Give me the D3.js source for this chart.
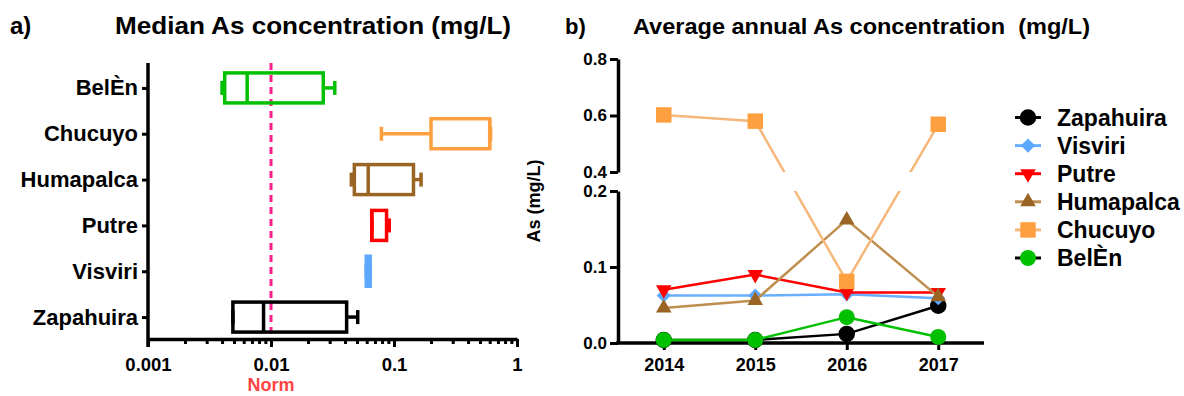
<!DOCTYPE html>
<html>
<head>
<meta charset="utf-8">
<script src="https://cdn.jsdelivr.net/npm/d3@7"></script>
<style>
  body { margin: 0; background: #fff; }
  svg text { font-family: "Liberation Sans", Arial, sans-serif; font-weight: bold; }
</style>
</head>
<body>
<div class="chart"></div>
<script>
// ---- panel a: box plots (mg/L) ----
const sites = ['BelÈn', 'Chucuyo', 'Humapalca', 'Putre', 'Visviri', 'Zapahuira'];
const boxMin = [0.0040, 0.079, 0.045, 0.066, 0.0595, 0.0049];
const boxQ1 = [0.0042, 0.20, 0.0476, 0.066, 0.0595, 0.0049];
const boxMedian = [0.0064, 0.60, 0.0617, 0.066, 0.062, 0.0087];
const boxQ3 = [0.0266, 0.60, 0.144, 0.087, 0.064, 0.0412];
const boxMax = [0.033, 0.61, 0.166, 0.0915, 0.064, 0.0507];
const boxColors = ['#00c000', '#ffa040', '#9a6424', '#ff0000', '#5ca8ff', '#000000'];
const logTicks = [0.001, 0.01, 0.1, 1];
const normValue = 0.01;

// ---- panel b: annual averages ----
const years = ['2014', '2015', '2016', '2017'];
const seriesNames = ['Zapahuira', 'Visviri', 'Putre', 'Humapalca', 'Chucuyo', 'BelÈn'];
const zapahuira = [0.004, 0.004, 0.012, 0.049];
const visviri = [0.0625, 0.0625, 0.064, 0.059];
const putre = [0.070, 0.090, 0.0666, 0.0666];
const humapalca = [0.046, 0.056, 0.162, 0.061];
const chucuyo = [0.602, 0.580, 0.081, 0.569];
const belen = [0.004, 0.004, 0.034, 0.008];
const lowerTicks = [0, 0.1, 0.2];
const upperTicks = [0.4, 0.6, 0.8];

const W = 1184, H = 396;
const svg = d3.select('.chart').append('svg')
  .attr('width', W)
  .attr('height', H);

function styleAxis(g, fontSize) {
  g.select('.domain').attr('stroke', '#000').attr('stroke-width', 3.5);
  g.selectAll('.tick line').attr('stroke', '#000').attr('stroke-width', 3);
  g.selectAll('.tick text').attr('fill', '#000').style('font-size', fontSize + 'px');
}

// titles
svg.append('text').attr('x', 10).attr('y', 34).style('font-size', '24px').text('a)');
svg.append('text').attr('x', 115).attr('y', 34).style('font-size', '24px')
  .attr('textLength', 396).attr('lengthAdjust', 'spacingAndGlyphs')
  .text('Median As concentration (mg/L)');
svg.append('text').attr('x', 565).attr('y', 34).style('font-size', '22px').text('b)');
svg.append('text').attr('x', 633).attr('y', 34).style('font-size', '22px')
  .style('white-space', 'pre')
  .attr('textLength', 457).attr('lengthAdjust', 'spacingAndGlyphs')
  .text('Average annual As concentration  (mg/L)');

// ================= panel a =================
const axLeft = 148, axRight = 517, axTop = 63, axBottom = 339;

const xLog = d3.scaleLog()
  .domain([0.001, 1])
  .range([axLeft, axRight]);

const yBand = d3.scalePoint()
  .domain(sites)
  .range([axTop + 2, axBottom + 1])
  .padding(0.5);

// minor log ticks
const minorTicks = [];
[0.001, 0.01, 0.1].forEach(function(d) {
  for (let k = 2; k <= 9; k++) minorTicks.push(d * k);
});

const gMinor = svg.append('g')
  .attr('transform', 'translate(0,' + axBottom + ')')
  .call(d3.axisBottom(xLog).tickValues(minorTicks).tickFormat('').tickSize(5).tickSizeOuter(0));
styleAxis(gMinor, 18);
gMinor.select('.domain').remove();

const gx = svg.append('g')
  .attr('transform', 'translate(0,' + axBottom + ')')
  .call(d3.axisBottom(xLog).tickValues(logTicks).tickFormat(d3.format('')).tickSize(8).tickPadding(11).tickSizeOuter(0));
styleAxis(gx, 18.5);

const gy = svg.append('g')
  .attr('transform', 'translate(' + axLeft + ',0)')
  .call(d3.axisLeft(yBand).tickSize(6).tickPadding(4).tickSizeOuter(0));
styleAxis(gy, 22);
gy.select('.domain').attr('d', 'M0,' + axTop + 'V' + (axBottom + 8));

// norm line
svg.append('line')
  .attr('x1', xLog(normValue)).attr('x2', xLog(normValue))
  .attr('y1', axTop).attr('y2', axBottom)
  .attr('stroke', '#ff1e8c')
  .attr('stroke-width', 3)
  .attr('stroke-dasharray', '7,5');

svg.append('text')
  .attr('x', xLog(normValue)).attr('y', 391)
  .attr('text-anchor', 'middle')
  .attr('fill', '#ff4444')
  .style('font-size', '18px')
  .text('Norm');

// boxes
const boxHalf = 15, capHalf = 7;
sites.forEach(function(s, i) {
  const cy = yBand(s);
  const g = svg.append('g')
    .attr('stroke', boxColors[i])
    .attr('stroke-width', 3.5)
    .attr('fill', 'none');
  // whiskers
  g.append('line').attr('x1', xLog(boxMin[i])).attr('x2', xLog(boxQ1[i])).attr('y1', cy).attr('y2', cy);
  g.append('line').attr('x1', xLog(boxQ3[i])).attr('x2', xLog(boxMax[i])).attr('y1', cy).attr('y2', cy);
  g.append('line').attr('x1', xLog(boxMin[i])).attr('x2', xLog(boxMin[i])).attr('y1', cy - capHalf).attr('y2', cy + capHalf);
  g.append('line').attr('x1', xLog(boxMax[i])).attr('x2', xLog(boxMax[i])).attr('y1', cy - capHalf).attr('y2', cy + capHalf);
  // box
  g.append('rect')
    .attr('x', xLog(boxQ1[i]))
    .attr('y', cy - boxHalf)
    .attr('width', xLog(boxQ3[i]) - xLog(boxQ1[i]))
    .attr('height', boxHalf * 2);
  g.append('line').attr('x1', xLog(boxMedian[i])).attr('x2', xLog(boxMedian[i])).attr('y1', cy - boxHalf).attr('y2', cy + boxHalf);
});

// ================= panel b =================
const bLeft = 618, bRight = 984, bBottom = 343;
const lowTop = 191, upBottom = 172, upTop = 59;

const xYear = d3.scalePoint()
  .domain(years)
  .range([bLeft, bRight])
  .padding(0.5);

const yLow = d3.scaleLinear().domain([0, 0.2]).range([bBottom, lowTop]);
const yUp = d3.scaleLinear().domain([0.4, 0.8]).range([upBottom, upTop]);
// broken axis: piecewise scale for the data marks
const yBroken = d3.scaleLinear()
  .domain([0, 0.2, 0.4, 0.8])
  .range([bBottom, lowTop, upBottom, upTop]);

const gLow = svg.append('g')
  .attr('transform', 'translate(' + bLeft + ',0)')
  .call(d3.axisLeft(yLow).tickValues(lowerTicks).tickFormat(d3.format('.1f')).tickSize(8).tickPadding(3).tickSizeOuter(0));
styleAxis(gLow, 17);

const gUp = svg.append('g')
  .attr('transform', 'translate(' + bLeft + ',0)')
  .call(d3.axisLeft(yUp).tickValues(upperTicks).tickFormat(d3.format('.1f')).tickSize(8).tickPadding(3).tickSizeOuter(0));
styleAxis(gUp, 17);

const gxb = svg.append('g')
  .attr('transform', 'translate(0,' + bBottom + ')')
  .call(d3.axisBottom(xYear).tickSize(7).tickPadding(8).tickSizeOuter(0));
styleAxis(gxb, 18);
gxb.select('.domain').attr('d', 'M' + (bLeft - 1.75) + ',0H' + bRight);

svg.append('text')
  .attr('transform', 'translate(540,' + ((upTop + bBottom) / 2) + ') rotate(-90)')
  .attr('text-anchor', 'middle')
  .style('font-size', '18px')
  .text('As (mg/L)');

// clip lines out of the axis break
const clip = svg.append('clipPath').attr('id', 'breakClip');
clip.append('rect').attr('x', 0).attr('y', 0).attr('width', W).attr('height', upBottom);
clip.append('rect').attr('x', 0).attr('y', lowTop).attr('width', W).attr('height', H - lowTop);

const seriesValues = [zapahuira, visviri, putre, humapalca, chucuyo, belen];
const markerFill = ['#000000', '#5ca8ff', '#ff0000', '#9a6424', '#ffa040', '#00c000'];
const lineColor = ['#000000', '#6aaeff', '#ff0000', '#bf8f50', '#f5b77a', '#00c000'];
const legendLine = ['#000000', '#6aaeff', '#ff0000', '#bf8f50', '#f5b77a', '#000000'];

function marker(sel, i) {
  if (i === 0 || i === 5) {
    sel.append('circle').attr('r', i === 0 ? 7.5 : 8)
      .attr('fill', markerFill[i])
      .attr('stroke', i === 0 ? '#000' : 'none')
      .attr('stroke-width', 1.5);
  } else if (i === 1) {
    sel.append('path').attr('d', d3.symbol(d3.symbolSquare, 100)())
      .attr('transform', 'rotate(45)').attr('fill', markerFill[i]);
  } else if (i === 2) {
    sel.append('path').attr('d', d3.symbol(d3.symbolTriangle, 105)())
      .attr('transform', 'rotate(180)').attr('fill', markerFill[i]);
  } else if (i === 3) {
    sel.append('path').attr('d', d3.symbol(d3.symbolTriangle, 105)())
      .attr('fill', markerFill[i]);
  } else {
    sel.append('path').attr('d', d3.symbol(d3.symbolSquare, 240)())
      .attr('fill', markerFill[i]);
  }
}

const line = d3.line()
  .x(function(d, i) { return xYear(years[i]); })
  .y(function(d) { return yBroken(d); });

seriesValues.forEach(function(vals, i) {
  svg.append('path')
    .datum(vals)
    .attr('clip-path', 'url(#breakClip)')
    .attr('fill', 'none')
    .attr('stroke', lineColor[i])
    .attr('stroke-width', 2.5)
    .attr('d', line);
  vals.forEach(function(v, j) {
    const m = svg.append('g')
      .attr('transform', 'translate(' + xYear(years[j]) + ',' + yBroken(v) + ')');
    marker(m, i);
  });
});

// legend
const legY = d3.scalePoint().domain(seriesNames).range([117.5, 258]);
seriesNames.forEach(function(name, i) {
  const g = svg.append('g').attr('transform', 'translate(1028,' + legY(name) + ')');
  g.append('line').attr('x1', -13).attr('x2', 13)
    .attr('stroke', legendLine[i]).attr('stroke-width', 3);
  marker(g, i);
  g.append('text')
    .attr('x', 29)
    .attr('dy', '0.36em')
    .style('font-size', '23px')
    .text(name);
});
</script>
</body>
</html>
